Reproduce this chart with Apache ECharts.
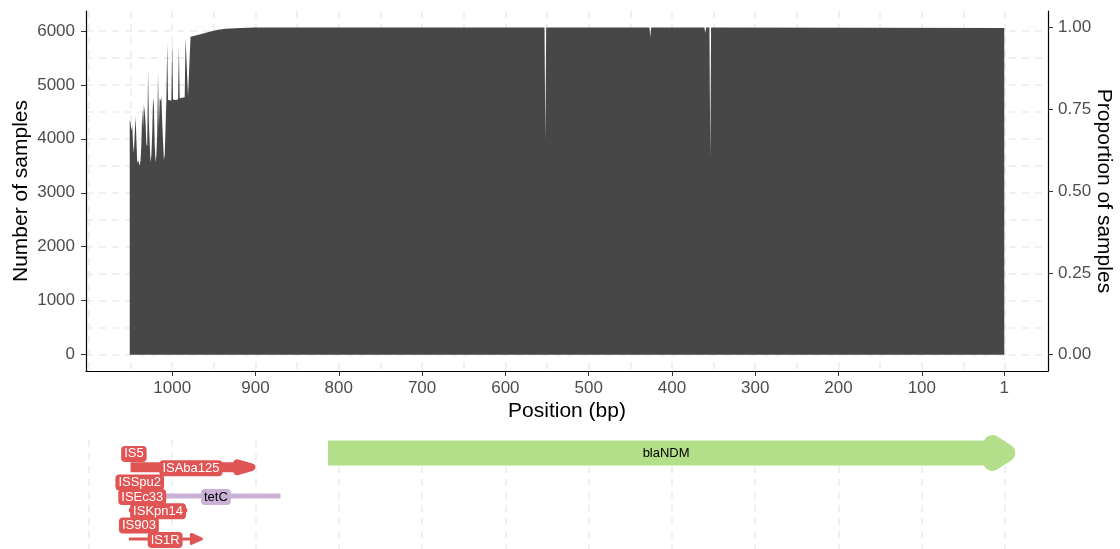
<!DOCTYPE html>
<html><head><meta charset="utf-8">
<script src="https://cdn.jsdelivr.net/npm/echarts@6/dist/echarts.min.js"></script>
<style>html,body{margin:0;padding:0;background:#fff}#c{width:1120px;height:549px}</style>
</head><body><div id="c"></div>
<script>
// ---- coverage data (position in bp, number of samples) ----
const covPos = [1, 353, 354, 355, 359, 360, 361, 425, 426, 427, 551, 552, 553, 900, 918, 936, 945, 954, 966, 978, 980,
  981, 983, 984, 985, 988, 991, 992, 993, 996, 999, 1000, 1001, 1003, 1005, 1006, 1007, 1008,
  1009, 1010, 1011, 1012, 1013, 1014, 1015, 1016, 1017, 1018, 1019, 1020, 1021, 1022, 1023, 1024, 1025, 1026, 1027,
  1028, 1029, 1030, 1031, 1032, 1033, 1034, 1035, 1036, 1037, 1038, 1039, 1040, 1041, 1042, 1043, 1044, 1045, 1046,
  1047, 1048, 1049, 1050, 1051];
const covVal = [6055, 6060, 3620, 6060, 6060, 5960, 6060, 6060, 5880, 6060, 6060, 3950, 6060, 6060, 6052, 6040, 6020, 5990, 5935, 5890, 5875,
  4790, 4780, 5870, 4770, 4760, 4750, 5700, 4730, 4720, 4730, 5780, 4710, 4700, 4720, 5780, 4720, 4710,
  3700, 3610, 3640, 4300, 4780, 4700, 4750, 4200, 5220, 4100, 3700, 3560, 3900, 4600, 4780, 4100, 3700, 3560, 3900,
  4300, 5280, 3860, 3900, 4300, 4500, 4630, 4200, 4550, 3900, 3600, 3500, 3480, 3600, 3550, 4000, 4410, 4100, 3740,
  3900, 4250, 4150, 4300, 4350];
const totalSamples = 6060;

// ---- axis ticks / gridlines ----
const xTicks = [1, 100, 200, 300, 400, 500, 600, 700, 800, 900, 1000];
const xGridVals = [1, 50, 100, 150, 200, 250, 300, 350, 400, 450, 500, 550, 600, 650, 700, 750, 800, 850, 900, 950, 1000, 1050, 1100];
const yTicks = [0, 1000, 2000, 3000, 4000, 5000, 6000];
const yGridVals = [0, 500, 1000, 1500, 2000, 2500, 3000, 3500, 4000, 4500, 5000, 5500, 6000];
const propTicks = [0, 0.25, 0.5, 0.75, 1];
const trackGridVals = [1, 100, 200, 300, 400, 500, 600, 700, 800, 900, 1000, 1100];

// ---- gene annotation track ----
const geneNames = ['IS5', 'blaNDM', 'ISAba125', 'ISSpu2', 'ISEc33', 'tetC', 'ISKpn14', 'IS903', 'IS1R'];
const geneStart = [1052, 813, 1050, 1052, 1052, 1025, 1052, 1052, 1052];
const geneEnd   = [1040, 1, 905, 1026, 1020, 870, 982, 1028, 965];
const geneRow   = [0, 0, 1, 2, 3, 3, 4, 5, 6];
const geneClass = ['IS', 'AMR', 'IS', 'IS', 'IS', 'TET', 'IS', 'IS', 'IS'];

// ---- styles ----
const classColor = { IS: '#e15454', AMR: '#b3df8a', TET: '#cab2d6' };
const shapeStyle = {
  blaNDM:   { w: 25, head: { len: 14, half: 9, round: 18, over: 2 } },
  ISAba125: { w: 10, head: { len: 14, half: 4, round: 8, over: 0 } },
  IS1R:     { w: 3,  head: { len: 10, half: 4.5, round: 3, over: 0 } },
  tetC:     { w: 5 },
  _default: { w: 4 }
};
const FONT = '"Liberation Sans", Arial, Helvetica, sans-serif';
const gridLine = { show: true, lineStyle: { color: '#ebebeb', width: 1.5, type: [7, 6] } };
const plainNum = v => String(Math.round(v));

const xMin = -51.5, xMax = 1103.5;
const yMin = -303, yMax = 6368;

const chart = echarts.init(document.getElementById('c'), null, { renderer: 'canvas' });

const geneData = geneNames.map((n, i) => [geneStart[i], geneEnd[i], geneRow[i], i]);

function renderGene(params, api) {
  const i = api.value(3);
  const name = geneNames[i];
  const st = shapeStyle[name] || shapeStyle._default;
  const color = classColor[geneClass[i]];
  const p0 = api.coord([api.value(0), api.value(2)]);
  const p1 = api.coord([api.value(1), api.value(2)]);
  const dir = Math.sign(p1[0] - p0[0]) || 1;
  const children = [];
  if (st.head) {
    const tip = p1[0] + dir * st.head.over;
    const base = tip - dir * st.head.len;
    children.push({ type: 'line', shape: { x1: p0[0], y1: p0[1], x2: base + dir * 2, y2: p1[1] },
      style: { stroke: color, lineWidth: st.w, lineCap: 'butt' } });
    children.push({ type: 'polygon', shape: { points: [[base, p1[1] - st.head.half], [tip, p1[1]], [base, p1[1] + st.head.half]] },
      style: { fill: color, stroke: color, lineWidth: st.head.round, lineJoin: 'round' } });
  } else {
    children.push({ type: 'line', shape: { x1: p0[0], y1: p0[1], x2: p1[0], y2: p1[1] },
      style: { stroke: color, lineWidth: st.w, lineCap: 'butt' } });
  }
  return { type: 'group', children };
}

function renderLabel(params, api) {
  const i = api.value(3);
  const cls = geneClass[i];
  const mid = (api.value(0) + api.value(1)) / 2;
  const p = api.coord([mid, api.value(2)]);
  const style = { text: geneNames[i], font: '13px ' + FONT, align: 'center', verticalAlign: 'middle' };
  if (cls === 'IS') {
    Object.assign(style, { fill: '#ffffff', backgroundColor: classColor.IS, padding: [2, 3, 1, 3], borderRadius: 4 });
  } else if (cls === 'TET') {
    Object.assign(style, { fill: '#000000', backgroundColor: classColor.TET, padding: [2, 3, 1, 3], borderRadius: 4 });
  } else {
    Object.assign(style, { fill: '#000000' });
  }
  return { type: 'text', x: p[0], y: p[1] + 1, style };
}

const option = {
  animation: false,
  backgroundColor: '#ffffff',
  textStyle: { fontFamily: FONT },
  grid: [
    { left: 86, right: 72, top: 11, height: 360, containLabel: false, outerBoundsMode: 'none' },
    { left: 86, right: 72, top: 440, height: 109, containLabel: false, outerBoundsMode: 'none' }
  ],
  xAxis: [
    { type: 'value', gridIndex: 0, inverse: true, min: xMin, max: xMax, position: 'bottom',
      name: 'Position (bp)', nameLocation: 'middle', nameGap: 30, nameMoveOverlap: false,
      nameTextStyle: { fontSize: 21, color: '#000', fontFamily: FONT },
      axisLine: { show: true, onZero: false, lineStyle: { color: '#000', width: 1.2 } },
      axisTick: { show: true, length: 5, lineStyle: { color: '#333' }, customValues: xTicks },
      axisLabel: { show: true, margin: 9, fontSize: 17, color: '#4d4d4d', fontFamily: FONT, customValues: xTicks, formatter: plainNum },
      splitLine: { show: false } },
    { type: 'value', gridIndex: 0, inverse: true, min: xMin, max: xMax, position: 'bottom',
      axisLine: { show: false, onZero: false }, axisLabel: { show: false },
      axisTick: { show: false, customValues: xGridVals },
      splitLine: gridLine },
    { type: 'value', gridIndex: 1, inverse: true, min: xMin, max: xMax,
      axisLine: { show: false, onZero: false }, axisLabel: { show: false },
      axisTick: { show: false, customValues: trackGridVals },
      splitLine: gridLine }
  ],
  yAxis: [
    { type: 'value', gridIndex: 0, min: yMin, max: yMax, position: 'left',
      name: 'Number of samples', nameLocation: 'middle', nameGap: 54, nameRotate: 90, nameMoveOverlap: false,
      nameTextStyle: { fontSize: 21, color: '#000', fontFamily: FONT },
      axisLine: { show: true, onZero: false, lineStyle: { color: '#000', width: 1.2 } },
      axisTick: { show: true, length: 5, lineStyle: { color: '#333' }, customValues: yTicks },
      axisLabel: { show: true, margin: 11, fontSize: 17, color: '#4d4d4d', fontFamily: FONT, customValues: yTicks, formatter: plainNum },
      splitLine: { show: false } },
    { type: 'value', gridIndex: 0, min: yMin / totalSamples, max: yMax / totalSamples, position: 'right',
      name: 'Proportion of samples', nameLocation: 'middle', nameGap: 45, nameRotate: -90, nameMoveOverlap: false,
      nameTextStyle: { fontSize: 21, color: '#000', fontFamily: FONT },
      axisLine: { show: true, onZero: false, lineStyle: { color: '#000', width: 1.2 } },
      axisTick: { show: true, length: 5, lineStyle: { color: '#333' }, customValues: propTicks },
      axisLabel: { show: true, margin: 10, fontSize: 17, color: '#4d4d4d', fontFamily: FONT, customValues: propTicks,
        formatter: v => Number(v).toFixed(2) },
      splitLine: { show: false } },
    { type: 'value', gridIndex: 0, min: yMin, max: yMax, position: 'left',
      axisLine: { show: false, onZero: false }, axisLabel: { show: false },
      axisTick: { show: false, customValues: yGridVals },
      splitLine: gridLine },
    { type: 'value', gridIndex: 1, min: -0.9, max: 6.7, inverse: true, show: false }
  ],
  series: [
    { type: 'line', xAxisIndex: 0, yAxisIndex: 0, z: 3,
      data: covPos.map((p, i) => [p, covVal[i]]),
      symbol: 'none', lineStyle: { width: 0, opacity: 0 },
      areaStyle: { color: '#474747', opacity: 1 }, silent: true },
    { type: 'custom', xAxisIndex: 2, yAxisIndex: 3, z: 3, data: geneData,
      encode: { x: [0, 1], y: 2 }, renderItem: renderGene, silent: true, clip: false },
    { type: 'custom', xAxisIndex: 2, yAxisIndex: 3, z: 5, data: geneData,
      encode: { x: [0, 1], y: 2 }, renderItem: renderLabel, silent: true, clip: false }
  ]
};
chart.setOption(option);
</script>
</body></html>
